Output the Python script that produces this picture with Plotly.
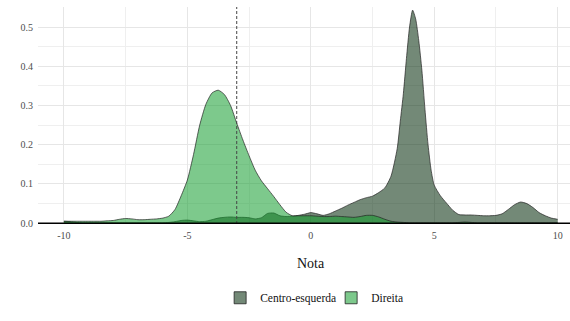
import plotly.graph_objects as go

# ---- data ----
series_names = ["Centro-esquerda", "Direita"]

x_direita = [-10.0,-9.75,-9.5,-9.25,-9.0,-8.75,-8.5,-8.25,-8.0,-7.75,
             -7.5,-7.25,-7.0,-6.75,-6.5,-6.25,-6.0,-5.75,-5.5,-5.25,
             -5.0,-4.75,-4.5,-4.25,-4.0,-3.75,-3.5,-3.25,-3.0,-2.75,
             -2.5,-2.25,-2.0,-1.75,-1.5,-1.25,-1.0,-0.75,-0.5,-0.25,
             0.0,0.25,0.5,0.75,1.0,1.25,1.5,1.75,2.0,2.25,
             2.5,2.75,3.0,3.25,3.5,3.75,4.0,4.25,4.5,4.75,
             5.0,5.25,5.5,5.75,6.0,6.25,6.5,6.75,7.0,7.25,
             7.5,7.75,8.0,8.25,8.5,8.75,9.0,9.25,9.5,9.75,10.0]
dens_direita = [0.005,0.005,0.005,0.005,0.005,0.005,0.005,0.006,0.007,0.010,
                0.012,0.011,0.009,0.009,0.010,0.011,0.013,0.018,0.035,0.070,
                0.110,0.175,0.250,0.303,0.332,0.339,0.328,0.300,0.255,0.212,
                0.172,0.135,0.108,0.088,0.068,0.047,0.028,0.019,0.019,0.019,
                0.019,0.018,0.017,0.017,0.018,0.017,0.016,0.015,0.017,0.020,
                0.020,0.016,0.010,0.005,0.003,0.002,0.001,0.001,0.001,0.001,
                0.001,0.001,0.001,0.001,0.002,0.003,0.002,0.001,0.001,0.001,
                0.001,0.001,0.001,0.001,0.001,0.001,0.001,0.001,0.001,0.001,0.001]

x_centro = [-10.0,-9.75,-9.5,-9.25,-9.0,-8.75,-8.5,-8.25,-8.0,-7.75,
            -7.5,-7.25,-7.0,-6.75,-6.5,-6.25,-6.0,-5.75,-5.5,-5.25,
            -5.0,-4.75,-4.5,-4.25,-4.0,-3.75,-3.5,-3.25,-3.0,-2.75,
            -2.5,-2.25,-2.0,-1.75,-1.5,-1.25,-1.0,-0.75,-0.5,-0.25,
            0.0,0.25,0.5,0.75,1.0,1.25,1.5,1.75,2.0,2.25,
            2.5,2.75,3.0,3.25,3.5,
            3.625,3.75,3.875,4.0,4.125,4.25,4.375,4.5,4.625,4.75,4.875,
            5.0,5.25,5.5,5.75,6.0,6.25,6.5,6.75,7.0,7.25,
            7.5,7.75,8.0,8.25,8.5,8.75,9.0,9.25,9.5,9.75,10.0]
dens_centro = [0.005,0.004,0.002,0.001,0.001,0.001,0.001,0.001,0.001,0.001,
               0.001,0.001,0.001,0.001,0.001,0.001,0.001,0.002,0.004,0.007,
               0.008,0.006,0.004,0.005,0.009,0.013,0.015,0.016,0.015,0.015,
               0.014,0.011,0.014,0.025,0.026,0.019,0.017,0.018,0.020,0.023,
               0.027,0.024,0.020,0.024,0.031,0.038,0.046,0.053,0.060,0.065,
               0.069,0.078,0.090,0.120,0.190,
               0.260,0.330,0.420,0.500,0.543,0.520,0.465,0.390,0.290,0.200,0.135,
               0.097,0.070,0.051,0.033,0.022,0.021,0.021,0.020,0.019,0.019,
               0.020,0.024,0.035,0.047,0.054,0.050,0.040,0.027,0.019,0.013,0.010]

x_tick_vals = [-10, -5, 0, 5, 10]
x_tick_text = ["-10", "-5", "0", "5", "10"]
y_tick_vals = [0.0, 0.1, 0.2, 0.3, 0.4, 0.5]
y_tick_text = ["0.0", "0.1", "0.2", "0.3", "0.4", "0.5"]
mean_line = -3.0
x_title = "Nota"

# ---- styling ----
ALPHA = 0.55
fill_centro = f"rgba(0,40,8,{ALPHA})"
fill_direita = f"rgba(19,157,46,{ALPHA})"
FONT = "Liberation Serif"

fig = go.Figure()
fig.add_trace(go.Scatter(x=x_centro, y=dens_centro, mode="lines", fill="tozeroy",
                         fillcolor=fill_centro, line=dict(color="#222222", width=0.7, shape="spline", smoothing=0.6),
                         showlegend=False, hoverinfo="skip"))
fig.add_trace(go.Scatter(x=x_direita, y=dens_direita, mode="lines", fill="tozeroy",
                         fillcolor=fill_direita, line=dict(color="#222222", width=0.7, shape="spline", smoothing=0.6),
                         showlegend=False, hoverinfo="skip"))
# legend keys
for name, col in zip(series_names, [fill_centro, fill_direita]):
    fig.add_trace(go.Bar(x=[None], y=[None], name=name,
                         marker=dict(color=col, line=dict(color="#222222", width=0.8))))

fig.add_shape(type="line", xref="x", yref="paper", x0=mean_line, x1=mean_line, y0=0, y1=1,
              line=dict(color="#444444", width=1, dash="3px,2px"))
fig.add_shape(type="line", xref="paper", yref="y", x0=0, x1=1, y0=0, y1=0,
              line=dict(color="black", width=1.6))

fig.add_annotation(text=x_title, xref="x", yref="paper", x=0, y=-0.18, yanchor="middle",
                   showarrow=False, font=dict(family=FONT, size=14, color="#111111"))

fig.update_layout(
    width=570, height=321,
    margin=dict(l=38, r=0, t=7, b=97),
    plot_bgcolor="white", paper_bgcolor="white",
    font=dict(family=FONT, size=10, color="#4d4d4d"),
    showlegend=True,
    legend=dict(orientation="h", x=0.551, xanchor="center", y=-0.34, yanchor="middle",
                font=dict(family=FONT, size=11.5, color="#111111"), itemwidth=30,
                entrywidth=66, entrywidthmode="pixels",
                bgcolor="rgba(0,0,0,0)"),
    bargap=0,
)
fig.update_xaxes(range=[-11.05, 10.5], tickvals=x_tick_vals, ticktext=x_tick_text,
                 showgrid=True, gridcolor="#e6e6e6", gridwidth=1, zeroline=False,
                 showline=False, ticks="", ticklabelstandoff=4,
                 minor=dict(tickvals=[-7.5, -2.5, 2.5, 7.5], showgrid=True, gridcolor="#efefef", gridwidth=1))
fig.update_yaxes(range=[-0.002, 0.551], tickvals=y_tick_vals, ticktext=y_tick_text,
                 showgrid=True, gridcolor="#e6e6e6", gridwidth=1, zeroline=False,
                 showline=False, ticks="", ticklabelstandoff=4,
                 minor=dict(tickvals=[0.05, 0.15, 0.25, 0.35, 0.45, 0.55], showgrid=True, gridcolor="#efefef", gridwidth=1))

fig.write_html("out.html")
